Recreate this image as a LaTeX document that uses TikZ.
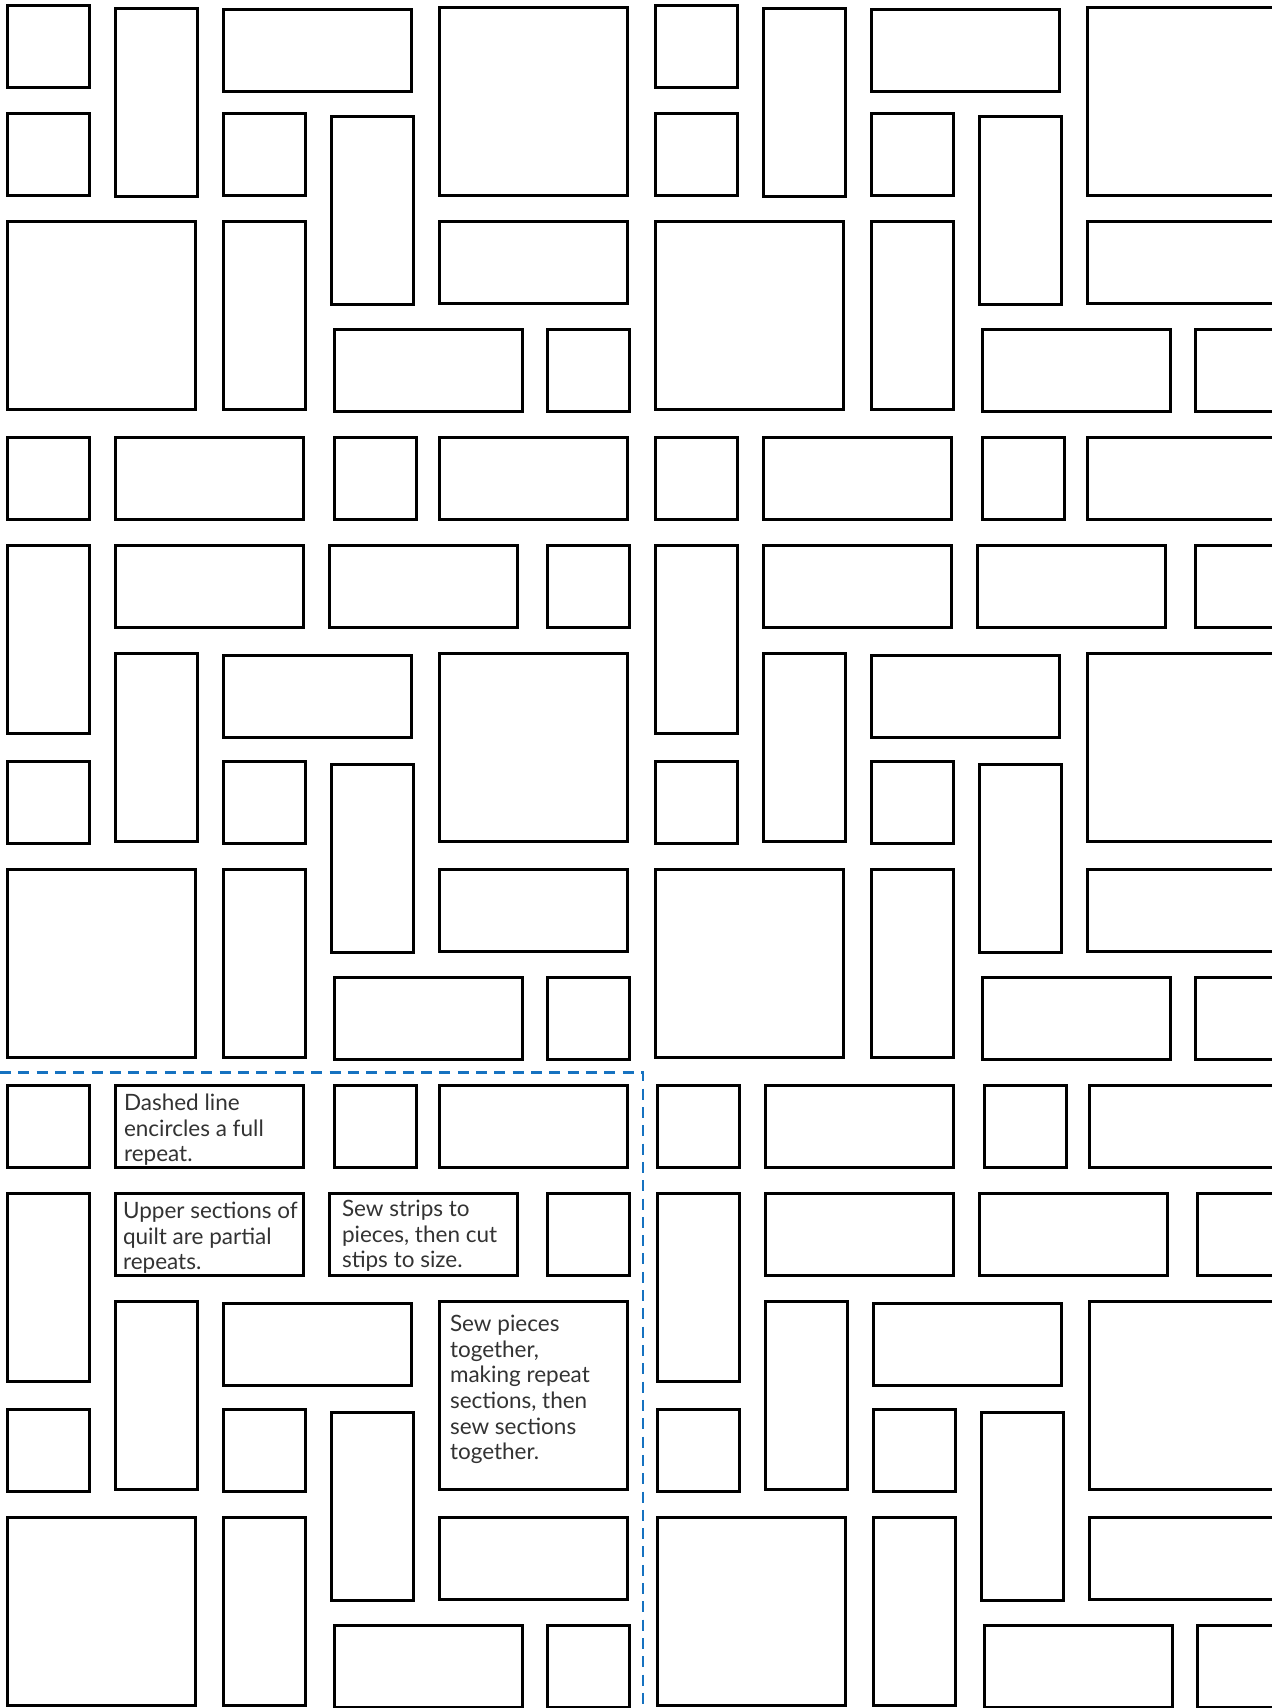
\documentclass[tikz,border=0pt]{standalone}
\usepackage{fontspec}
\setmainfont{Lato}
\usepackage{xcolor}
\usepackage{tikz}
\usetikzlibrary{positioning}
\definecolor{repeatblue}{RGB}{22,114,192}

% one full repeat, 6 x 6 cells: col/row/width/height/dx/dy
\newcommand\fullrepeat{0/0/1/1/0/0, 1/0/2/1/0/0, 3/0/1/1/3/0, 4/0/2/1/0/0,
  0/1/1/2/0/0, 1/1/2/1/0/0, 3/1/2/1/-2/0, 5/1/1/1/0/0,
  1/2/1/2/0/0, 2/2/2/1/0/2, 4/2/2/2/0/0,
  0/3/1/1/0/0, 2/3/1/1/0/0, 3/3/1/2/0/3,
  0/4/2/2/0/0, 2/4/1/2/0/0, 4/4/2/1/0/0,
  3/5/2/1/3/0, 5/5/1/1/0/0}
% partial repeat along the top edge (rows 2 to 5 only)
\newcommand\toprepeat{0/2/1/1/0/0, 1/2/1/2/0/3, 2/2/2/1/0/4, 4/2/2/2/0/2,
  0/3/1/1/0/0, 2/3/1/1/0/0, 3/3/1/2/0/3,
  0/4/2/2/0/0, 2/4/1/2/0/0, 4/4/2/1/0/0,
  3/5/2/1/3/0, 5/5/1/1/0/0}

\begin{document}
\begin{tikzpicture}[
    x=0.01cm, y=-0.01cm,
    patch/.style={draw=black, line width=0.027cm, fill=white, inner sep=0pt, outer sep=0pt,
                  anchor=north west},
    note/.style={inner sep=0pt, align=left, anchor=north west, text=black!80,
                 font=\fontsize{6.4}{7.3}\selectfont},
    repeatline/.style={draw=repeatblue, line width=0.027cm, dash pattern=on 0.11cm off 0.073cm}
]
\useasboundingbox (0,0) rectangle (1272,1708);
\clip (0,0) rectangle (1272,1708);

% -------- Partial repeats along the top --------
\foreach \bx in {0,6}{
  \foreach \c/\r/\w/\h/\dx/\dy in \toprepeat{
    \node[patch, minimum width={(\w*106-24)*0.01cm}, minimum height={(\h*106-24)*0.01cm}]
      (t-\bx-\c-\r) at ({7.3+108*(\bx+\c)+\dx}, {5.3+108*(\r-2)+\dy}) {};
  }
}

% -------- Full repeats (two across, two down) --------
\foreach \bx/\by/\ox in {0/4/0, 6/4/0, 0/10/0, 6/10/2}{
  \foreach \c/\r/\w/\h/\dx/\dy in \fullrepeat{
    \node[patch, minimum width={(\w*106-24)*0.01cm}, minimum height={(\h*106-24)*0.01cm}]
      (p-\bx-\by-\c-\r) at ({7.3+108*(\bx+\c)+\dx+\ox}, {5.3+108*(\by+\r)+\dy}) {};
  }
}

% -------- Notes written on the patches --------
\node[note, below right=0.08cm and 0.08cm of p-0-10-1-0.north west] (note-dashed)
  {Dashed line\\encircles a full\\repeat.};
\node[note, below right=0.08cm and 0.07cm of p-0-10-1-1.north west] (note-upper)
  {Upper sections of\\quilt are partial\\repeats.};
\node[note, below right=0.06cm and 0.12cm of p-0-10-3-1.north west] (note-strips)
  {Sew strips to\\pieces, then cut\\stips to size.};
\node[note, below right=0.13cm and 0.10cm of p-0-10-4-2.north west] (note-pieces)
  {Sew pieces\\together,\\making repeat\\sections, then\\sew sections\\together.};

% -------- Dashed outline of one full repeat --------
\coordinate (rep-w) at (0,1072.5);
\coordinate (rep-s) at (643,1712);
\draw[repeatline] (rep-w) -| (rep-s);

\end{tikzpicture}
\end{document}
